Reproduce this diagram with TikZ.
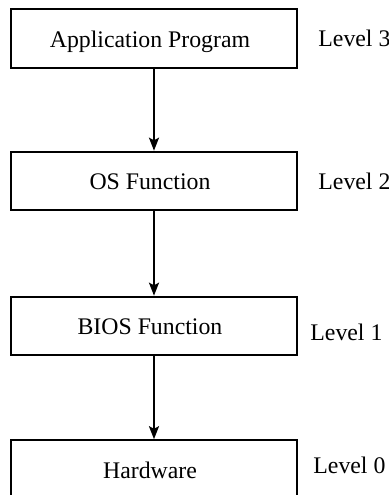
\documentclass[tikz,border=0pt]{standalone}
\usepackage{fontspec}
\setmainfont{Liberation Serif}
\usetikzlibrary{arrows.meta}
\begin{document}
\begin{tikzpicture}[x=0.5pt,y=-0.5pt,
  layer/.style={draw, line width=1pt, minimum width=143pt, minimum height=29.3pt,
    inner sep=0pt, text height=8.5pt, text depth=0pt,
    execute at end node=\hspace{4pt},
    font=\fontsize{11.9}{14}\selectfont},
  levellabel/.style={anchor=base west, inner sep=0pt, font=\fontsize{11.9}{14}\selectfont},
  flow/.style={line width=1pt, -{Stealth[length=6.5pt,width=5pt,inset=1.3pt]}}]
\useasboundingbox (0,0) rectangle (389,495);
\clip (0,0) rectangle (389,495);
% the four levels of the software/hardware stack
\node[layer] (app)  at (154,38.5) {Application Program};
\node[layer] (os)   at (154,181)  {OS Function};
\node[layer] (bios) at (154,326)  {BIOS Function};
\node[layer] (hw)   at (154,469.5){Hardware};
% level labels beside each box
\node[levellabel] (l3) at (318,46)  {Level 3};
\node[levellabel] (l2) at (318,189) {Level 2};
\node[levellabel] (l1) at (310,340) {Level 1};
\node[levellabel] (l0) at (313,473) {Level 0};
% calls pass downwards
\draw[flow] (app) -- (os);
\draw[flow] (os) -- (bios);
\draw[flow] (bios) -- (hw);
\end{tikzpicture}
\end{document}
